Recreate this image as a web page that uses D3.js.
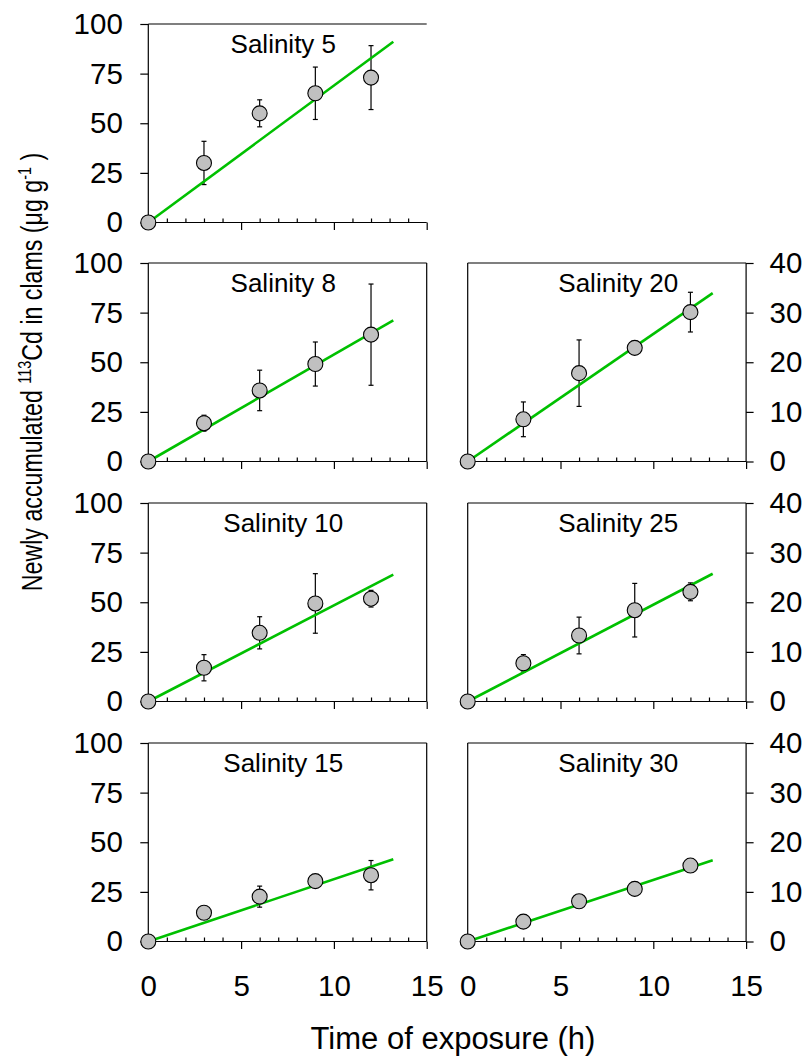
<!DOCTYPE html>
<html>
<head>
<meta charset="utf-8">
<script src="https://cdn.jsdelivr.net/npm/d3@7"></script>
<style>
  html, body { margin: 0; padding: 0; background: #fff; }
  svg { display: block; font-family: "Liberation Sans", Arial, sans-serif; }
</style>
</head>
<body>
<script>
// Sampling times (h)
const times = [0, 3, 6, 9, 12];

// Newly accumulated 113Cd (µg g-1): means and error bars per salinity
const meanS5  = [0, 30.0, 55.0, 65.1, 73.0];
const errS5   = [0, 10.9, 6.8, 13.2, 16.1];
const meanS8  = [0, 19.3, 35.8, 49.1, 63.9];
const errS8   = [0, 4.0, 10.2, 11.1, 25.5];
const meanS10 = [0, 17.0, 34.6, 49.4, 51.8];
const errS10  = [0, 6.6, 8.1, 15.0, 4.2];
const meanS15 = [0, 14.5, 22.6, 30.4, 33.4];
const errS15  = [0, 0, 5.3, 0, 7.4];
const meanS20 = [0, 8.5, 17.8, 22.9, 30.1];
const errS20  = [0, 3.5, 6.7, 0, 4.0];
const meanS25 = [0, 7.7, 13.3, 18.4, 22.1];
const errS25  = [0, 1.75, 3.7, 5.4, 1.8];
const meanS30 = [0, 4.0, 8.1, 10.6, 15.3];
const errS30  = [0, 0, 0, 1.3, 0];

// Linear uptake fits (slope, µg g-1 h-1), drawn from 0 to fitEndTime
const fitSlopes = { s5: 6.90, s8: 5.39, s10: 4.84, s15: 3.14, s20: 2.57, s25: 1.95, s30: 1.24 };
const fitEndTime = 13.2;

// Axis ticks
const xTicks = [0, 5, 10, 15];
const xMinorTicks = [1, 2, 3, 4, 6, 7, 8, 9, 11, 12, 13, 14];
const leftYTicks = [0, 25, 50, 75, 100];
const rightYTicks = [0, 10, 20, 30, 40];

const panels = [
  { title: "Salinity 5",  mean: meanS5,  err: errS5,  slope: fitSlopes.s5,  col: 0, row: 0 },
  { title: "Salinity 8",  mean: meanS8,  err: errS8,  slope: fitSlopes.s8,  col: 0, row: 1 },
  { title: "Salinity 10", mean: meanS10, err: errS10, slope: fitSlopes.s10, col: 0, row: 2 },
  { title: "Salinity 15", mean: meanS15, err: errS15, slope: fitSlopes.s15, col: 0, row: 3 },
  { title: "Salinity 20", mean: meanS20, err: errS20, slope: fitSlopes.s20, col: 1, row: 1 },
  { title: "Salinity 25", mean: meanS25, err: errS25, slope: fitSlopes.s25, col: 1, row: 2 },
  { title: "Salinity 30", mean: meanS30, err: errS30, slope: fitSlopes.s30, col: 1, row: 3 }
];

// Layout
const W = 810, H = 1059;
const colLeft = [148.3, 467.7];
const plotW = 278.4;
const rowBottom = [222.5, 461.5, 701.5, 941.5];
const plotH = 198.5;
const titleOffset = [135, 150.6];
const tickFont = 29.5;
const green = "#00c000";

const svg = d3.select("body").append("svg")
  .attr("width", W).attr("height", H);

panels.forEach(p => {
  const x0 = colLeft[p.col];
  const yb = rowBottom[p.row];
  const yt = yb - plotH;
  const yMax = p.col === 0 ? 100 : 40;
  const x = d3.scaleLinear().domain([0, 15]).range([x0, x0 + plotW]);
  const y = d3.scaleLinear().domain([0, yMax]).range([yb, yt]);
  const g = svg.append("g");

  // frame
  const frame = g.append("g").attr("stroke", "#000").attr("stroke-width", 1.2).attr("fill", "none");
  frame.append("line").attr("x1", x(0)).attr("x2", x(15)).attr("y1", y(yMax)).attr("y2", y(yMax));
  frame.append("line").attr("x1", x(0)).attr("x2", x(0)).attr("y1", y(0)).attr("y2", y(yMax));
  frame.append("line").attr("x1", x(0)).attr("x2", x(15)).attr("y1", y(0)).attr("y2", y(0));
  if (!(p.col === 0 && p.row === 0)) {
    frame.append("line").attr("x1", x(15)).attr("x2", x(15)).attr("y1", y(0)).attr("y2", y(yMax));
  }

  // x axis: major ticks outward, minor ticks inward
  const xAxis = d3.axisBottom(x).tickValues(xTicks).tickSize(7.5).tickPadding(26)
    .tickFormat(p.row === 3 ? d3.format("d") : () => "");
  const xg = g.append("g").attr("transform", `translate(0,${y(0)})`).call(xAxis);
  const xMinor = d3.axisBottom(x).tickValues(xMinorTicks).tickSize(-4).tickFormat(() => "");
  const xmg = g.append("g").attr("transform", `translate(0,${y(0)})`).call(xMinor);
  [xg, xmg].forEach(a => {
    a.select(".domain").remove();
    a.selectAll("line").attr("stroke", "#000").attr("stroke-width", 1.2);
    a.selectAll("text").attr("font-size", tickFont).attr("font-family", null).attr("fill", "#000");
  });

  // y axis
  let yAxis;
  if (p.col === 0) {
    yAxis = d3.axisLeft(y).tickValues(leftYTicks).tickSize(8).tickPadding(17.5);
  } else {
    yAxis = d3.axisRight(y).tickValues(rightYTicks).tickSize(7.5).tickPadding(16);
  }
  const yg = g.append("g")
    .attr("transform", `translate(${p.col === 0 ? x(0) : x(15)},0)`)
    .call(yAxis);
  yg.select(".domain").remove();
  yg.selectAll("line").attr("stroke", "#000").attr("stroke-width", 1.2);
  yg.selectAll("text").attr("font-size", tickFont).attr("font-family", null).attr("fill", "#000");

  // panel title
  g.append("text")
    .attr("x", x0 + titleOffset[p.col])
    .attr("y", yt + 29)
    .attr("text-anchor", "middle")
    .attr("font-size", 26)
    .text(p.title);

  const pts = times.map((t, i) => ({ t, m: p.mean[i], e: p.err[i] }));

  // error bars
  const eb = g.append("g").attr("stroke", "#000").attr("stroke-width", 1.2);
  pts.filter(d => d.e > 0).forEach(d => {
    eb.append("line").attr("x1", x(d.t)).attr("x2", x(d.t)).attr("y1", y(d.m - d.e)).attr("y2", y(d.m + d.e));
    [d.m - d.e, d.m + d.e].forEach(v => {
      eb.append("line").attr("x1", x(d.t) - 2.5).attr("x2", x(d.t) + 2.5).attr("y1", y(v)).attr("y2", y(v));
    });
  });

  // fitted line
  g.append("line")
    .attr("x1", x(0)).attr("y1", y(0))
    .attr("x2", x(fitEndTime)).attr("y2", y(p.slope * fitEndTime))
    .attr("stroke", green).attr("stroke-width", 2.6);

  // data points
  g.selectAll("circle.pt").data(pts).join("circle")
    .attr("class", "pt")
    .attr("cx", d => x(d.t)).attr("cy", d => y(d.m)).attr("r", 7.5)
    .attr("fill", "#c0c0c0").attr("stroke", "#000").attr("stroke-width", 1.1);
});

// axis titles
svg.append("text")
  .attr("x", 453).attr("y", 1049)
  .attr("text-anchor", "middle")
  .attr("font-size", 31)
  .text("Time of exposure (h)");

// vertical title, condensed along its length
const yTitle = svg.append("text")
  .attr("transform", "translate(42,372) rotate(-90) scale(0.8,1)")
  .attr("text-anchor", "middle")
  .attr("font-size", 29);
yTitle.append("tspan").text("Newly accumulated ");
yTitle.append("tspan").attr("font-size", 18).attr("dy", -11).text("113");
yTitle.append("tspan").attr("dy", 11).text("Cd in clams (\u03BCg g");
yTitle.append("tspan").attr("font-size", 18).attr("dy", -11).text("-1");
yTitle.append("tspan").attr("dy", 11).text(" )");
</script>
</body>
</html>
